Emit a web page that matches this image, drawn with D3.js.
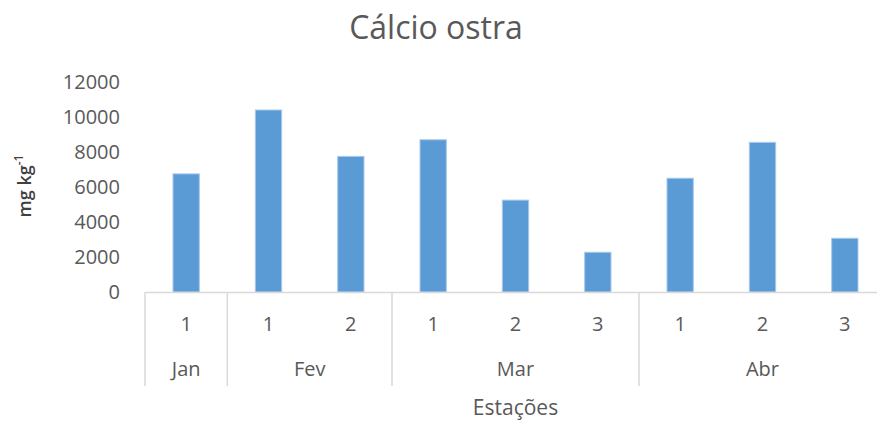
<!DOCTYPE html>
<html>
<head>
<meta charset="utf-8">
<script src="https://cdn.jsdelivr.net/npm/d3@7"></script>
<style>
  html, body { margin: 0; padding: 0; background: #fff; }
  svg { display: block; font-family: "Open Sans", "Noto Sans", sans-serif; }
</style>
</head>
<body>
<svg id="chart" width="877" height="421"></svg>
<script>
// Calcium content in oysters, by month and sampling station
const months   = ["Jan", "Fev", "Fev", "Mar", "Mar", "Mar", "Abr", "Abr", "Abr"];
const stations = ["1", "1", "2", "1", "2", "3", "1", "2", "3"];
const calcium  = [6750, 10400, 7750, 8700, 5250, 2270, 6500, 8550, 3070];
const yTicks   = [0, 2000, 4000, 6000, 8000, 10000, 12000];

const svg = d3.select("#chart");
const textColor = "#595959";
const axisColor = "#d9d9d9";

const plotLeft = 145, plotRight = 886, plotTop = 82, plotBottom = 292;
const keys = calcium.map((_, i) => i);

const x = d3.scaleBand().domain(keys).range([plotLeft, plotRight]).paddingInner(0.68).paddingOuter(0.34);
const y = d3.scaleLinear().domain([0, 12000]).range([plotBottom, plotTop]);

// Title
svg.append("text")
  .attr("x", 436).attr("y", 39)
  .attr("text-anchor", "middle")
  .attr("fill", textColor)
  .attr("font-size", 32)
  .text("Cálcio ostra");

// Y axis labels (no axis line, no gridlines)
const yAxis = d3.axisLeft(y).tickValues(yTicks).tickSize(0).tickPadding(0).tickFormat(d3.format("d"));
const gy = svg.append("g").attr("transform", `translate(120,0)`).call(yAxis);
gy.select(".domain").remove();
gy.selectAll("text").attr("fill", textColor).attr("font-size", 20).attr("font-family", "Open Sans, sans-serif");

// Y axis title
const yt = svg.append("text")
  .attr("transform", "translate(31,186) rotate(-90)")
  .attr("text-anchor", "middle")
  .attr("fill", "#404040")
  .attr("font-size", 18)
  .attr("font-weight", 600);
yt.append("tspan").text("mg kg");
yt.append("tspan").attr("dy", -8).attr("font-size", 12).text("-1");

// Bars
svg.append("g").selectAll("rect")
  .data(keys)
  .join("rect")
  .attr("x", i => x(i))
  .attr("width", x.bandwidth())
  .attr("y", i => y(calcium[i]))
  .attr("height", i => y(0) - y(calcium[i]))
  .attr("fill", "#5b9bd5")
  .attr("stroke", "#a9c9ea")
  .attr("stroke-width", 1);

// Category axis: baseline, station labels, month groups
const gx = svg.append("g");
const xAxis = d3.axisBottom(x).tickSize(0).tickPadding(0).tickFormat(i => stations[i]);
gx.append("g").attr("transform", `translate(0,${plotBottom})`).call(xAxis)
  .call(g => g.select(".domain").attr("stroke", axisColor).attr("stroke-width", 1.5))
  .call(g => g.selectAll("text").attr("fill", textColor).attr("font-size", 20)
    .attr("font-family", "Open Sans, sans-serif").attr("dy", "0.32em").attr("y", 33));

// Month groups from consecutive runs
const groups = [];
months.forEach((m, i) => {
  const last = groups[groups.length - 1];
  if (last && last.name === m) last.end = i; else groups.push({ name: m, start: i, end: i });
});
const step = x.step();
const edge = i => x(i) + x.bandwidth() / 2 - step / 2;

const dividers = [edge(0)].concat(groups.map(g => edge(g.end) + step));
gx.selectAll("line.div")
  .data(dividers)
  .join("line")
  .attr("class", "div")
  .attr("x1", d => d).attr("x2", d => d)
  .attr("y1", plotBottom).attr("y2", 386)
  .attr("stroke", axisColor).attr("stroke-width", 1.5);

gx.selectAll("text.month")
  .data(groups)
  .join("text")
  .attr("class", "month")
  .attr("x", g => (edge(g.start) + edge(g.end) + step) / 2)
  .attr("y", 370)
  .attr("dy", "0.32em")
  .attr("text-anchor", "middle")
  .attr("fill", textColor)
  .attr("font-size", 20)
  .text(g => g.name);

// X axis title
svg.append("text")
  .attr("x", (plotLeft + plotRight) / 2).attr("y", 415)
  .attr("text-anchor", "middle")
  .attr("fill", textColor)
  .attr("font-size", 21)
  .text("Estações");
</script>
</body>
</html>
